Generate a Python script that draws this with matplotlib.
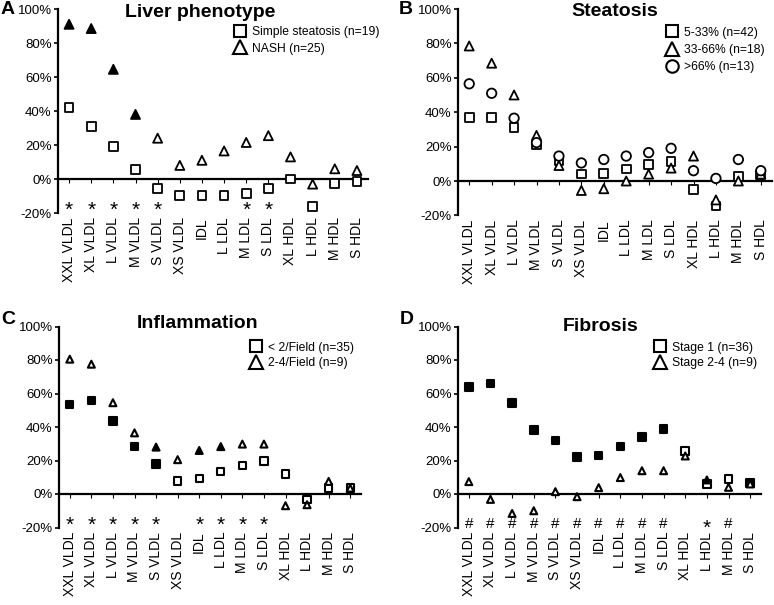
import matplotlib
matplotlib.use("Agg")
import matplotlib.pyplot as plt
from matplotlib.lines import Line2D

plt.rcParams['font.family'] = ['Liberation Sans', 'DejaVu Sans']

categories = ['XXL VLDL', 'XL VLDL', 'L VLDL', 'M VLDL', 'S VLDL', 'XS VLDL', 'IDL',
              'L LDL', 'M LDL', 'S LDL', 'XL HDL', 'L HDL', 'M HDL', 'S HDL']
ytick_values = [-20, 0, 20, 40, 60, 80, 100]
ytick_labels = ['-20%', '0%', '20%', '40%', '60%', '80%', '100%']

# Panel A: Liver phenotype
a_simple = [42, 31, 19, 5.5, -5.5, -9.5, -9.5, -9.5, -8.5, -5.5, 0, -16, -2.7, -1.5]
a_simple_filled = [False] * 14
a_nash = [91, 88.5, 64.5, 38, 24, 8, 11, 16.5, 21.5, 25.5, 13, -3, 6, 5]
a_nash_filled = [True, True, True, True] + [False] * 10
a_marks = ['*', '*', '*', '*', '*', '', '', '', '*', '*', '', '', '', '']

# Panel B: Steatosis
b_low = [37, 37, 31, 21, 12, 4, 4.5, 7, 9.7, 11.5, -5, -14.5, 2.5, 3.5]
b_mid = [78.5, 68.5, 50, 26.5, 9, -5.5, -4.5, 0, 4, 7.5, 14.5, -11, 0, 4]
b_high = [56.5, 51, 36.5, 22.3, 14.5, 10.5, 12.5, 14.5, 16.5, 19, 6, 1.5, 12.5, 6]

# Panel C: Inflammation
c_low = [53.5, 56, 43.5, 28.3, 18, 7.8, 9.4, 13.3, 16.9, 19.7, 12, -3.3, 3.6, 3.6]
c_low_filled = [True] * 5 + [False] * 9
c_high = [80.5, 77.5, 54.5, 36.5, 28, 20.5, 26, 28.3, 29.8, 29.8, -7, -6.4, 7.5, 3.5]
c_high_filled = [False, False, False, False, True, False, True, True] + [False] * 6
c_marks = ['*', '*', '*', '*', '*', '', '*', '*', '*', '*', '', '', '', '']

# Panel D: Fibrosis
d_s1 = [64, 66, 54.3, 38.2, 32, 22, 23, 28.3, 34, 38.8, 25.7, 6, 9, 6.4]
d_s1_filled = [True] * 10 + [False, False, False, True]
d_s2 = [7.4, -3.2, -11.6, -10, 1.4, -1.6, 3.8, 9.8, 13.9, 13.9, 22.7, 8.4, 4, 6]
d_s2_filled = [False] * 11 + [True, False, False]
d_marks = ['#'] * 10 + ['', '*', '#', '']

W, H = 774, 605
fig = plt.figure(figsize=(W / 100, H / 100), dpi=100)


def make_ax(left, right, top, bottom):
    ax = fig.add_axes([left / W, 1 - bottom / H, (right - left) / W, (bottom - top) / H])
    ax.set_xlim(-0.5, len(categories) - 0.5)
    ax.set_ylim(-20, 100)
    for s in ['top', 'right']:
        ax.spines[s].set_visible(False)
    ax.spines['left'].set_linewidth(1.6)
    ax.spines['bottom'].set_position(('data', 0))
    ax.spines['bottom'].set_linewidth(1.6)
    ax.set_xticks(range(len(categories)))
    ax.tick_params(axis='x', direction='out', length=3, width=0.8, labelbottom=False)
    ax.set_yticks(ytick_values, ytick_labels)
    ax.tick_params(axis='y', direction='out', length=3, width=1.2, labelsize=9.5, pad=1.5)
    sec = ax.secondary_xaxis(0)
    sec.set_xticks(range(len(categories)), categories, rotation=90, fontsize=10)
    sec.tick_params(length=0, pad=3)
    sec.spines['bottom'].set_visible(False)
    return ax


def points(ax, vals, marker, size, filled=None, lw=1.3):
    if filled is None:
        filled = [False] * len(vals)
    fc = ['black' if f else 'white' for f in filled]
    ax.scatter(range(len(vals)), vals, marker=marker, s=size ** 2, facecolors=fc,
               edgecolors='black', linewidths=lw, zorder=3, clip_on=False)


def marks(ax, mk, y):
    for i, m in enumerate(mk):
        if m:
            if m == '*':
                ax.text(i, y - 2.5, m, ha='center', va='center', fontsize=15)
            else:
                ax.text(i, y, m, ha='center', va='center', fontsize=11)


def legend(ax, handles, x, y, spacing):
    ax.legend(handles=handles, loc='upper left', bbox_to_anchor=(x, y), frameon=False,
              borderpad=0, borderaxespad=0, handlelength=1.0, handletextpad=0.5,
              labelspacing=spacing, fontsize=8.7)


def h(marker, ms, label):
    return Line2D([], [], marker=marker, ls='none', mfc='white', mec='black', ms=ms, mew=1.5,
                  label=label)


# A
axA = make_ax(58, 368, 9, 213)
points(axA, a_simple, 's', 6.3, a_simple_filled)
points(axA, a_nash, '^', 6.5, a_nash_filled)
marks(axA, a_marks, -16)
axA.text(0.46, 0.985, 'Liver phenotype', transform=axA.transAxes, ha='center', va='center',
         fontsize=14, fontweight='bold')
legend(axA, [h('s', 8, 'Simple steatosis (n=19)'), h('^', 10, 'NASH (n=25)')], 0.568, 0.915, 0.35)

# B
axB = make_ax(458, 772, 9, 215.4)
points(axB, b_low, 's', 6.3)
points(axB, b_mid, '^', 6.5)
points(axB, b_high, 'o', 6.8)
axB.text(0.5, 0.99, 'Steatosis', transform=axB.transAxes, ha='center', va='center',
         fontsize=14, fontweight='bold')
legend(axB, [h('s', 8, '5-33% (n=42)'), h('^', 10, '33-66% (n=18)'), h('o', 9, '>66% (n=13)')],
       0.662, 0.915, 0.45)

# C
axC = make_ax(59, 361, 326.5, 527.5)
points(axC, c_low, 's', 5.3, c_low_filled, lw=1.5)
points(axC, c_high, '^', 5.0, c_high_filled, lw=1.5)
marks(axC, c_marks, -16.5)
axC.text(0.46, 1.017, 'Inflammation', transform=axC.transAxes, ha='center', va='center',
         fontsize=14, fontweight='bold')
legend(axC, [h('s', 8, '< 2/Field (n=35)'), h('^', 10, '2-4/Field (n=9)')], 0.632, 0.925, 0.3)

# D
axD = make_ax(458, 761, 326.5, 527.5)
points(axD, d_s1, 's', 5.5, d_s1_filled, lw=1.5)
points(axD, d_s2, '^', 5.0, d_s2_filled, lw=1.5)
marks(axD, d_marks, -18)
axD.text(0.47, 1.0, 'Fibrosis', transform=axD.transAxes, ha='center', va='center',
         fontsize=14, fontweight='bold')
legend(axD, [h('s', 8, 'Stage 1 (n=36)'), h('^', 10, 'Stage 2-4 (n=9)')], 0.647, 0.925, 0.3)

for letter, x, y in [('A', 8, 10), ('B', 406, 10), ('C', 8, 320), ('D', 407, 320)]:
    fig.text(x / W, 1 - y / H, letter, ha='center', va='center', fontsize=14, fontweight='bold')

fig.savefig('out.png', dpi=100)
